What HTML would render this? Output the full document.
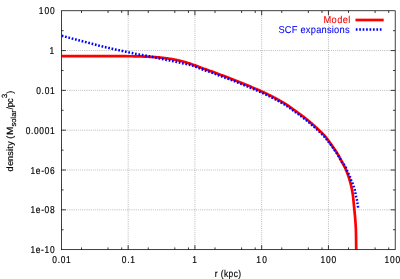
<!DOCTYPE html>
<html><head><meta charset="utf-8"><title>density</title>
<style>html,body{margin:0;padding:0;background:#fff;width:400px;height:279px;overflow:hidden}body{position:relative;font-family:"Liberation Sans",sans-serif}</style></head>
<body>
<svg width="400" height="279" viewBox="0 0 400 279" style="display:block;position:absolute;left:0;top:0" font-family="Liberation Sans, sans-serif" font-size="10px" text-rendering="geometricPrecision">
<rect width="400" height="279" fill="#fff"/>
<path d="M128.16,249.65 V10.75 M194.92,249.65 V10.75 M261.68,249.65 V10.75 M328.44,249.65 V10.75 M61.4,50.57 H395.2 M61.4,90.38 H395.2 M61.4,130.20 H395.2 M61.4,170.02 H395.2 M61.4,209.83 H395.2" stroke="#000" stroke-opacity="0.62" stroke-width="0.625" stroke-dasharray="0.625 1.25" fill="none"/>
<clipPath id="c"><rect x="61.4" y="10.75" width="333.8" height="238.9"/></clipPath>
<g clip-path="url(#c)" fill="none">
<path d="M61.50,56.20 L62.18,56.20 L62.85,56.20 L63.53,56.20 L64.20,56.20 L64.88,56.20 L65.55,56.20 L66.23,56.20 L66.90,56.20 L67.58,56.20 L68.26,56.20 L68.93,56.20 L69.61,56.20 L70.28,56.20 L70.96,56.20 L71.63,56.20 L72.31,56.20 L72.98,56.20 L73.66,56.20 L74.34,56.20 L75.01,56.20 L75.69,56.20 L76.36,56.20 L77.04,56.20 L77.71,56.20 L78.39,56.20 L79.06,56.20 L79.74,56.20 L80.42,56.20 L81.09,56.20 L81.77,56.20 L82.44,56.20 L83.12,56.20 L83.79,56.20 L84.47,56.20 L85.14,56.20 L85.82,56.20 L86.50,56.20 L87.17,56.20 L87.85,56.20 L88.52,56.20 L89.20,56.20 L89.87,56.20 L90.55,56.20 L91.22,56.20 L91.90,56.20 L92.58,56.20 L93.25,56.20 L93.93,56.20 L94.60,56.20 L95.28,56.20 L95.95,56.20 L96.63,56.20 L97.30,56.20 L97.98,56.20 L98.65,56.20 L99.33,56.20 L100.01,56.20 L100.68,56.20 L101.36,56.20 L102.03,56.20 L102.71,56.20 L103.38,56.20 L104.06,56.20 L104.73,56.20 L105.41,56.20 L106.09,56.20 L106.76,56.20 L107.44,56.20 L108.11,56.20 L108.79,56.20 L109.46,56.20 L110.14,56.20 L110.81,56.20 L111.49,56.20 L112.17,56.20 L112.84,56.20 L113.52,56.20 L114.19,56.20 L114.87,56.20 L115.54,56.20 L116.22,56.20 L116.89,56.20 L117.57,56.20 L118.25,56.20 L118.92,56.20 L119.60,56.20 L120.27,56.20 L120.95,56.20 L121.62,56.20 L122.30,56.20 L122.97,56.20 L123.65,56.21 L124.33,56.21 L125.00,56.21 L125.68,56.22 L126.35,56.22 L127.03,56.23 L127.70,56.23 L128.38,56.24 L129.05,56.24 L129.73,56.25 L130.41,56.25 L131.08,56.26 L131.76,56.27 L132.43,56.27 L133.11,56.28 L133.78,56.29 L134.46,56.29 L135.13,56.30 L135.81,56.31 L136.48,56.32 L137.16,56.34 L137.84,56.35 L138.51,56.37 L139.19,56.39 L139.86,56.41 L140.54,56.43 L141.21,56.46 L141.89,56.48 L142.56,56.51 L143.24,56.53 L143.91,56.56 L144.59,56.58 L145.26,56.61 L145.94,56.64 L146.61,56.67 L147.29,56.69 L147.96,56.73 L148.64,56.76 L149.31,56.79 L149.99,56.82 L150.66,56.86 L151.34,56.90 L152.01,56.93 L152.69,56.97 L153.36,57.01 L154.04,57.06 L154.71,57.10 L155.38,57.15 L156.06,57.19 L156.73,57.24 L157.40,57.29 L158.08,57.35 L158.75,57.40 L159.42,57.46 L160.09,57.53 L160.77,57.59 L161.44,57.66 L162.11,57.74 L162.78,57.82 L163.46,57.90 L164.13,57.98 L164.80,58.06 L165.47,58.15 L166.14,58.24 L166.81,58.33 L167.48,58.43 L168.15,58.52 L168.81,58.62 L169.48,58.72 L170.15,58.82 L170.81,58.93 L171.48,59.04 L172.14,59.15 L172.81,59.27 L173.47,59.39 L174.14,59.52 L174.80,59.65 L175.47,59.78 L176.13,59.92 L176.79,60.06 L177.45,60.20 L178.11,60.35 L178.77,60.50 L179.43,60.65 L180.09,60.81 L180.75,60.97 L181.40,61.13 L182.06,61.29 L182.71,61.45 L183.36,61.62 L184.01,61.80 L184.66,61.98 L185.31,62.17 L185.96,62.36 L186.60,62.56 L187.25,62.76 L187.89,62.96 L188.54,63.17 L189.18,63.39 L189.82,63.60 L190.46,63.82 L191.10,64.04 L191.74,64.26 L192.38,64.48 L193.02,64.70 L193.66,64.93 L194.29,65.15 L194.93,65.38 L195.57,65.60 L196.20,65.84 L196.83,66.08 L197.46,66.32 L198.09,66.57 L198.72,66.81 L199.35,67.06 L199.98,67.29 L200.62,67.53 L201.25,67.76 L201.89,67.99 L202.52,68.22 L203.16,68.45 L203.79,68.68 L204.43,68.91 L205.07,69.13 L205.70,69.36 L206.34,69.59 L206.97,69.81 L207.61,70.04 L208.25,70.26 L208.89,70.49 L209.53,70.71 L210.16,70.93 L210.80,71.15 L211.44,71.37 L212.08,71.60 L212.71,71.83 L213.35,72.06 L213.98,72.30 L214.61,72.54 L215.24,72.78 L215.87,73.02 L216.50,73.27 L217.13,73.51 L217.76,73.75 L218.39,74.00 L219.02,74.24 L219.66,74.47 L220.29,74.71 L220.92,74.94 L221.56,75.16 L222.20,75.39 L222.83,75.62 L223.47,75.84 L224.11,76.07 L224.74,76.30 L225.37,76.54 L226.01,76.78 L226.64,77.01 L227.27,77.25 L227.90,77.49 L228.53,77.73 L229.16,77.97 L229.79,78.22 L230.42,78.46 L231.05,78.70 L231.68,78.95 L232.31,79.20 L232.94,79.44 L233.57,79.69 L234.20,79.94 L234.83,80.19 L235.46,80.44 L236.08,80.69 L236.71,80.94 L237.34,81.19 L237.97,81.44 L238.59,81.69 L239.22,81.94 L239.85,82.19 L240.47,82.45 L241.10,82.70 L241.72,82.96 L242.35,83.21 L242.97,83.47 L243.60,83.73 L244.22,83.99 L244.85,84.24 L245.47,84.50 L246.09,84.76 L246.72,85.02 L247.34,85.28 L247.96,85.54 L248.59,85.81 L249.21,86.07 L249.83,86.33 L250.45,86.59 L251.08,86.85 L251.70,87.12 L252.32,87.38 L252.95,87.64 L253.57,87.90 L254.19,88.16 L254.81,88.43 L255.44,88.69 L256.06,88.96 L256.68,89.22 L257.30,89.49 L257.92,89.76 L258.54,90.03 L259.15,90.31 L259.77,90.58 L260.39,90.86 L261.00,91.14 L261.62,91.42 L262.23,91.70 L262.84,91.98 L263.45,92.27 L264.06,92.56 L264.68,92.84 L265.29,93.13 L265.90,93.43 L266.51,93.72 L267.11,94.01 L267.72,94.31 L268.33,94.60 L268.94,94.90 L269.54,95.20 L270.15,95.50 L270.75,95.81 L271.35,96.11 L271.96,96.42 L272.56,96.73 L273.16,97.04 L273.76,97.35 L274.36,97.66 L274.95,97.98 L275.55,98.29 L276.14,98.62 L276.73,98.94 L277.32,99.27 L277.91,99.61 L278.50,99.94 L279.08,100.28 L279.67,100.61 L280.26,100.95 L280.84,101.28 L281.43,101.61 L282.02,101.95 L282.61,102.28 L283.20,102.61 L283.79,102.95 L284.37,103.29 L284.96,103.63 L285.54,103.97 L286.11,104.32 L286.69,104.68 L287.25,105.04 L287.82,105.41 L288.38,105.79 L288.93,106.18 L289.48,106.57 L290.02,106.97 L290.57,107.37 L291.11,107.77 L291.65,108.18 L292.20,108.58 L292.74,108.98 L293.29,109.37 L293.84,109.77 L294.39,110.16 L294.94,110.56 L295.49,110.95 L296.04,111.35 L296.59,111.74 L297.14,112.13 L297.68,112.53 L298.23,112.92 L298.78,113.32 L299.33,113.72 L299.87,114.12 L300.42,114.51 L300.96,114.92 L301.51,115.32 L302.05,115.72 L302.59,116.13 L303.12,116.54 L303.66,116.95 L304.19,117.36 L304.72,117.78 L305.25,118.20 L305.78,118.62 L306.30,119.04 L306.83,119.47 L307.35,119.89 L307.87,120.32 L308.39,120.75 L308.91,121.18 L309.43,121.62 L309.95,122.05 L310.47,122.49 L310.98,122.93 L311.49,123.37 L312.01,123.81 L312.52,124.26 L313.03,124.70 L313.53,125.15 L314.04,125.60 L314.54,126.05 L315.05,126.50 L315.55,126.95 L316.05,127.41 L316.54,127.86 L317.04,128.32 L317.53,128.78 L318.03,129.24 L318.52,129.70 L319.01,130.16 L319.51,130.63 L320.00,131.10 L320.49,131.57 L320.97,132.04 L321.46,132.51 L321.94,132.99 L322.42,133.47 L322.89,133.95 L323.35,134.44 L323.82,134.93 L324.27,135.43 L324.72,135.93 L325.16,136.44 L325.59,136.95 L326.02,137.47 L326.45,137.99 L326.87,138.52 L327.28,139.05 L327.69,139.59 L328.10,140.13 L328.50,140.68 L328.90,141.22 L329.30,141.77 L329.69,142.32 L330.09,142.87 L330.48,143.42 L330.87,143.97 L331.27,144.52 L331.66,145.07 L332.05,145.62 L332.44,146.17 L332.83,146.73 L333.22,147.28 L333.61,147.83 L333.99,148.39 L334.38,148.95 L334.76,149.51 L335.14,150.07 L335.51,150.63 L335.88,151.19 L336.25,151.76 L336.62,152.33 L336.98,152.90 L337.33,153.47 L337.68,154.05 L338.03,154.63 L338.36,155.21 L338.70,155.80 L339.03,156.39 L339.36,156.98 L339.68,157.57 L340.00,158.17 L340.33,158.76 L340.65,159.36 L340.97,159.95 L341.30,160.54 L341.62,161.14 L341.94,161.73 L342.25,162.33 L342.57,162.93 L342.88,163.53 L343.19,164.13 L343.51,164.72 L343.82,165.32 L344.13,165.93 L344.44,166.53 L344.74,167.13 L345.04,167.74 L345.32,168.35 L345.60,168.97 L345.87,169.58 L346.13,170.20 L346.39,170.83 L346.64,171.45 L346.90,172.08 L347.14,172.71 L347.39,173.34 L347.62,173.98 L347.86,174.61 L348.08,175.25 L348.31,175.89 L348.52,176.53 L348.74,177.17 L348.94,177.81 L349.14,178.46 L349.34,179.10 L349.53,179.75 L349.72,180.40 L349.91,181.05 L350.09,181.70 L350.27,182.35 L350.45,183.00 L350.61,183.66 L350.78,184.32 L350.94,184.97 L351.10,185.63 L351.24,186.29 L351.39,186.95 L351.53,187.61 L351.67,188.27 L351.80,188.93 L351.94,189.59 L352.06,190.26 L352.19,190.92 L352.31,191.59 L352.43,192.25 L352.55,192.92 L352.65,193.59 L352.76,194.25 L352.86,194.92 L352.95,195.59 L353.03,196.26 L353.11,196.93 L353.19,197.60 L353.25,198.27 L353.32,198.95 L353.38,199.62 L353.45,200.29 L353.51,200.96 L353.57,201.64 L353.63,202.31 L353.70,202.98 L353.77,203.66 L353.83,204.33 L353.90,205.00 L353.97,205.67 L354.04,206.34 L354.11,207.02 L354.17,207.69 L354.24,208.36 L354.31,209.03 L354.37,209.71 L354.44,210.38 L354.50,211.05 L354.57,211.72 L354.63,212.40 L354.70,213.07 L354.76,213.74 L354.82,214.41 L354.89,215.09 L354.95,215.76 L355.01,216.43 L355.07,217.10 L355.13,217.78 L355.18,218.45 L355.23,219.12 L355.29,219.80 L355.33,220.47 L355.38,221.14 L355.43,221.82 L355.48,222.49 L355.53,223.17 L355.58,223.84 L355.62,224.51 L355.66,225.19 L355.71,225.86 L355.75,226.54 L355.78,227.21 L355.82,227.89 L355.85,228.56 L355.87,229.24 L355.90,229.91 L355.92,230.59 L355.94,231.26 L355.95,231.94 L355.97,232.61 L355.99,233.29 L356.00,233.96 L356.01,234.64 L356.03,235.31 L356.04,235.99 L356.05,236.67 L356.06,237.34 L356.07,238.02 L356.08,238.69 L356.09,239.37 L356.10,240.04 L356.11,240.72 L356.12,241.39 L356.13,242.07 L356.14,242.74 L356.14,243.42 L356.15,244.10 L356.16,244.77 L356.17,245.45 L356.17,246.12 L356.18,246.80 L356.19,247.47 L356.19,248.15 L356.20,248.82 L356.20,249.50" stroke="#ff0000" stroke-width="2.7" stroke-linejoin="round"/>
<path d="M61.75,35.75 L62.46,35.94 L63.16,36.13 L63.87,36.32 L64.58,36.52 L65.29,36.71 L65.99,36.90 L66.70,37.09 L67.41,37.28 L68.11,37.47 L68.82,37.66 L69.53,37.85 L70.24,38.04 L70.95,38.22 L71.65,38.41 L72.36,38.60 L73.07,38.79 L73.78,38.98 L74.48,39.16 L75.19,39.35 L75.90,39.54 L76.61,39.72 L77.32,39.91 L78.03,40.09 L78.74,40.28 L79.44,40.46 L80.15,40.65 L80.86,40.83 L81.57,41.01 L82.28,41.20 L82.99,41.38 L83.70,41.56 L84.41,41.75 L85.12,41.93 L85.83,42.11 L86.54,42.30 L87.25,42.48 L87.95,42.67 L88.66,42.85 L89.37,43.04 L90.08,43.22 L90.79,43.41 L91.50,43.60 L92.20,43.79 L92.91,43.98 L93.62,44.17 L94.33,44.36 L95.03,44.55 L95.74,44.74 L96.45,44.93 L97.15,45.12 L97.86,45.31 L98.57,45.50 L99.28,45.68 L99.99,45.87 L100.70,46.05 L101.41,46.23 L102.12,46.40 L102.83,46.58 L103.54,46.75 L104.25,46.91 L104.97,47.08 L105.68,47.24 L106.40,47.41 L107.11,47.57 L107.83,47.73 L108.54,47.89 L109.25,48.06 L109.97,48.22 L110.68,48.39 L111.40,48.55 L112.11,48.71 L112.82,48.88 L113.54,49.04 L114.25,49.20 L114.97,49.36 L115.68,49.52 L116.40,49.68 L117.11,49.83 L117.83,49.99 L118.54,50.15 L119.26,50.30 L119.98,50.46 L120.69,50.61 L121.41,50.77 L122.12,50.92 L122.84,51.07 L123.56,51.23 L124.27,51.38 L124.99,51.53 L125.71,51.68 L126.42,51.83 L127.14,51.98 L127.86,52.13 L128.57,52.29 L129.29,52.44 L130.00,52.60 L130.72,52.76 L131.43,52.92 L132.15,53.08 L132.86,53.24 L133.58,53.39 L134.30,53.55 L135.01,53.70 L135.73,53.85 L136.45,53.99 L137.17,54.12 L137.89,54.25 L138.61,54.38 L139.33,54.51 L140.05,54.63 L140.78,54.75 L141.50,54.88 L142.22,55.01 L142.94,55.13 L143.66,55.26 L144.38,55.39 L145.10,55.51 L145.83,55.64 L146.55,55.77 L147.27,55.90 L147.99,56.03 L148.71,56.17 L149.43,56.31 L150.14,56.45 L150.86,56.61 L151.58,56.77 L152.29,56.92 L153.01,57.08 L153.72,57.23 L154.44,57.38 L155.16,57.54 L155.87,57.69 L156.59,57.84 L157.31,57.99 L158.02,58.14 L158.74,58.29 L159.46,58.44 L160.17,58.59 L160.89,58.74 L161.61,58.89 L162.33,59.04 L163.04,59.19 L163.76,59.34 L164.48,59.49 L165.19,59.63 L165.91,59.78 L166.63,59.93 L167.35,60.07 L168.07,60.21 L168.78,60.36 L169.50,60.50 L170.22,60.64 L170.94,60.79 L171.66,60.94 L172.37,61.08 L173.09,61.23 L173.81,61.38 L174.53,61.53 L175.24,61.68 L175.96,61.83 L176.68,61.98 L177.39,62.14 L178.11,62.30 L178.82,62.45 L179.54,62.61 L180.25,62.78 L180.97,62.94 L181.68,63.10 L182.39,63.26 L183.11,63.41 L183.83,63.57 L184.54,63.72 L185.26,63.86 L185.99,64.00 L186.71,64.15 L187.42,64.29 L188.14,64.44 L188.86,64.60 L189.57,64.77 L190.27,64.95 L190.97,65.16 L191.66,65.38 L192.36,65.61 L193.05,65.86 L193.73,66.12 L194.42,66.38 L195.10,66.65 L195.79,66.92 L196.47,67.18 L197.16,67.44 L197.85,67.70 L198.54,67.95 L199.22,68.20 L199.91,68.45 L200.60,68.71 L201.29,68.96 L201.97,69.21 L202.66,69.47 L203.35,69.72 L204.04,69.97 L204.72,70.22 L205.41,70.47 L206.10,70.71 L206.79,70.96 L207.49,71.20 L208.18,71.44 L208.87,71.68 L209.56,71.92 L210.25,72.16 L210.94,72.41 L211.63,72.65 L212.32,72.90 L213.01,73.15 L213.70,73.40 L214.39,73.66 L215.07,73.91 L215.76,74.17 L216.44,74.44 L217.12,74.70 L217.81,74.96 L218.49,75.22 L219.18,75.48 L219.86,75.74 L220.55,76.00 L221.23,76.25 L221.92,76.51 L222.61,76.76 L223.30,77.01 L223.99,77.26 L224.68,77.51 L225.36,77.76 L226.05,78.01 L226.74,78.26 L227.43,78.52 L228.11,78.77 L228.80,79.03 L229.48,79.29 L230.16,79.56 L230.85,79.82 L231.53,80.09 L232.21,80.36 L232.89,80.62 L233.57,80.89 L234.26,81.16 L234.94,81.43 L235.62,81.70 L236.30,81.97 L236.98,82.24 L237.66,82.52 L238.34,82.79 L239.02,83.06 L239.70,83.34 L240.38,83.61 L241.05,83.89 L241.73,84.17 L242.41,84.44 L243.09,84.72 L243.77,85.00 L244.44,85.28 L245.12,85.56 L245.80,85.84 L246.47,86.12 L247.15,86.40 L247.82,86.69 L248.50,86.97 L249.17,87.25 L249.85,87.54 L250.52,87.82 L251.20,88.11 L251.88,88.39 L252.55,88.67 L253.23,88.96 L253.90,89.24 L254.58,89.53 L255.25,89.81 L255.92,90.10 L256.60,90.39 L257.27,90.68 L257.94,90.97 L258.61,91.27 L259.28,91.57 L259.95,91.87 L260.61,92.17 L261.28,92.47 L261.95,92.77 L262.61,93.08 L263.28,93.39 L263.94,93.70 L264.61,94.01 L265.27,94.32 L265.93,94.64 L266.59,94.95 L267.25,95.27 L267.91,95.59 L268.57,95.91 L269.23,96.23 L269.88,96.56 L270.54,96.89 L271.19,97.22 L271.84,97.55 L272.50,97.88 L273.15,98.22 L273.79,98.56 L274.44,98.91 L275.08,99.25 L275.73,99.61 L276.37,99.96 L277.01,100.31 L277.65,100.67 L278.29,101.03 L278.93,101.38 L279.57,101.74 L280.21,102.10 L280.85,102.46 L281.49,102.82 L282.13,103.18 L282.76,103.54 L283.40,103.90 L284.04,104.27 L284.67,104.64 L285.30,105.01 L285.92,105.39 L286.54,105.78 L287.15,106.18 L287.76,106.59 L288.36,107.00 L288.96,107.42 L289.55,107.85 L290.15,108.29 L290.74,108.72 L291.33,109.16 L291.92,109.59 L292.51,110.03 L293.10,110.46 L293.70,110.88 L294.30,111.31 L294.89,111.73 L295.49,112.15 L296.09,112.58 L296.69,113.00 L297.28,113.43 L297.88,113.85 L298.47,114.28 L299.06,114.71 L299.65,115.15 L300.24,115.58 L300.83,116.02 L301.41,116.46 L302.00,116.90 L302.58,117.35 L303.16,117.79 L303.74,118.24 L304.32,118.69 L304.90,119.14 L305.47,119.59 L306.05,120.05 L306.62,120.51 L307.18,120.97 L307.75,121.44 L308.32,121.90 L308.88,122.37 L309.44,122.84 L310.00,123.32 L310.56,123.79 L311.11,124.27 L311.67,124.75 L312.22,125.23 L312.77,125.71 L313.32,126.19 L313.87,126.68 L314.42,127.17 L314.96,127.66 L315.50,128.15 L316.05,128.64 L316.59,129.14 L317.12,129.63 L317.66,130.13 L318.19,130.63 L318.73,131.14 L319.26,131.64 L319.80,132.14 L320.33,132.64 L320.87,133.14 L321.40,133.65 L321.93,134.16 L322.45,134.68 L322.96,135.20 L323.47,135.72 L323.97,136.26 L324.46,136.80 L324.94,137.35 L325.41,137.90 L325.88,138.47 L326.34,139.04 L326.79,139.61 L327.25,140.19 L327.70,140.77 L328.14,141.35 L328.59,141.94 L329.04,142.52 L329.48,143.10 L329.92,143.68 L330.36,144.27 L330.80,144.86 L331.23,145.45 L331.67,146.04 L332.10,146.63 L332.53,147.22 L332.95,147.82 L333.38,148.42 L333.80,149.02 L334.22,149.62 L334.63,150.22 L335.05,150.82 L335.47,151.43 L335.88,152.03 L336.29,152.64 L336.70,153.25 L337.10,153.86 L337.50,154.47 L337.89,155.09 L338.28,155.71 L338.67,156.33 L339.04,156.97 L339.39,157.61 L339.74,158.26 L340.09,158.91 L340.44,159.56 L340.79,160.20 L341.15,160.84 L341.51,161.48 L341.89,162.10 L342.29,162.71 L342.72,163.29 L343.19,163.85 L343.70,164.40 L344.20,164.95 L344.67,165.51 L345.06,166.10 L345.40,166.73 L345.71,167.39 L346.00,168.06 L346.28,168.75 L346.55,169.44 L346.83,170.13 L347.11,170.81 L347.42,171.47 L347.73,172.14 L348.04,172.80 L348.35,173.46 L348.66,174.13 L348.98,174.79 L349.29,175.45 L349.61,176.11 L349.91,176.78 L350.18,177.46 L350.44,178.14 L350.69,178.83 L350.94,179.52 L351.20,180.20 L351.48,180.88 L351.77,181.55 L352.07,182.22 L352.35,182.90 L352.63,183.58 L352.89,184.26 L353.15,184.95 L353.40,185.64 L353.64,186.33 L353.88,187.02 L354.13,187.71 L354.38,188.40 L354.60,189.10 L354.80,189.80 L354.97,190.51 L355.12,191.23 L355.26,191.95 L355.40,192.67 L355.54,193.39 L355.68,194.11 L355.81,194.83 L355.95,195.55 L356.09,196.27 L356.24,196.98 L356.41,197.69 L356.59,198.41 L356.77,199.12 L356.93,199.83 L357.06,200.55 L357.18,201.27 L357.28,202.00 L357.39,202.72 L357.49,203.45 L357.61,204.17 L357.72,204.90 L357.84,205.62 L357.94,206.34 L358.03,207.07 L358.10,207.80" stroke="#0000ff" stroke-width="2.5" stroke-dasharray="1.7 1.73" stroke-linejoin="round"/>
</g>
<path d="M81.50,249.65 v-2.25 M81.50,10.75 v2.25 M108.06,249.65 v-2.25 M108.06,10.75 v2.25 M121.69,249.65 v-2.25 M121.69,10.75 v2.25 M128.16,249.65 v-4.5 M128.16,10.75 v4.5 M148.26,249.65 v-2.25 M148.26,10.75 v2.25 M174.82,249.65 v-2.25 M174.82,10.75 v2.25 M188.45,249.65 v-2.25 M188.45,10.75 v2.25 M194.92,249.65 v-4.5 M194.92,10.75 v4.5 M215.02,249.65 v-2.25 M215.02,10.75 v2.25 M241.58,249.65 v-2.25 M241.58,10.75 v2.25 M255.21,249.65 v-2.25 M255.21,10.75 v2.25 M261.68,249.65 v-4.5 M261.68,10.75 v4.5 M281.78,249.65 v-2.25 M281.78,10.75 v2.25 M308.34,249.65 v-2.25 M308.34,10.75 v2.25 M321.97,249.65 v-2.25 M321.97,10.75 v2.25 M328.44,249.65 v-4.5 M328.44,10.75 v4.5 M348.54,249.65 v-2.25 M348.54,10.75 v2.25 M375.10,249.65 v-2.25 M375.10,10.75 v2.25 M388.73,249.65 v-2.25 M388.73,10.75 v2.25 M61.4,30.66 h2.25 M395.2,30.66 h-2.25 M61.4,50.57 h4.5 M395.2,50.57 h-4.5 M61.4,70.48 h2.25 M395.2,70.48 h-2.25 M61.4,90.38 h4.5 M395.2,90.38 h-4.5 M61.4,110.29 h2.25 M395.2,110.29 h-2.25 M61.4,130.20 h4.5 M395.2,130.20 h-4.5 M61.4,150.11 h2.25 M395.2,150.11 h-2.25 M61.4,170.02 h4.5 M395.2,170.02 h-4.5 M61.4,189.93 h2.25 M395.2,189.93 h-2.25 M61.4,209.83 h4.5 M395.2,209.83 h-4.5 M61.4,229.74 h2.25 M395.2,229.74 h-2.25" stroke="#000" stroke-width="0.75" fill="none"/>
<rect x="61.4" y="10.75" width="333.8" height="238.9" fill="none" stroke="#000" stroke-width="0.75"/>
<g style="filter:grayscale(1)" stroke="#000" stroke-width="0.18">
<text transform="translate(0,14.25) scale(0.84,1)" x="46.26 52.83 59.41" y="0" font-size="10.0px">100</text>
<text transform="translate(0,54.07) scale(0.84,1)" x="58.95" y="0" font-size="10.0px">1</text>
<text transform="translate(0,93.88) scale(0.84,1)" x="43.18 49.55 53.14 59.51" y="0" font-size="10.0px">0.01</text>
<text transform="translate(0,133.70) scale(0.84,1)" x="30.60 36.94 40.49 46.83 53.17 59.51" y="0" font-size="10.0px">0.0001</text>
<text transform="translate(0,173.52) scale(0.84,1)" x="36.25 42.61 48.97 53.10 59.46" y="0" font-size="10.0px">1e-06</text>
<text transform="translate(0,213.33) scale(0.84,1)" x="36.25 42.61 48.97 53.10 59.46" y="0" font-size="10.0px">1e-08</text>
<text transform="translate(0,253.15) scale(0.84,1)" x="36.20 42.56 48.92 53.05 59.41" y="0" font-size="10.0px">1e-10</text>
<text transform="translate(0,263.10) scale(0.84,1)" x="62.26 68.67 72.30 78.71" y="0" font-size="10.0px">0.01</text>
<text transform="translate(0,263.10) scale(0.84,1)" x="144.90 151.35 155.02" y="0" font-size="10.0px">0.1</text>
<text transform="translate(0,263.10) scale(0.84,1)" x="228.95" y="0" font-size="10.0px">1</text>
<text transform="translate(0,263.10) scale(0.84,1)" x="305.21 312.14" y="0" font-size="10.0px">10</text>
<text transform="translate(0,263.10) scale(0.84,1)" x="381.53 388.15 394.78" y="0" font-size="10.0px">100</text>
<text transform="translate(0,263.10) scale(0.84,1)" x="457.84 464.37 470.89 477.42" y="0" font-size="10.0px">1000</text>
<text transform="translate(0,277.00) scale(0.84,1)" x="255.53 259.39 262.70 266.56 272.09 278.19 283.72" y="0" font-size="10.0px">r (kpc)</text>
<g transform="translate(12.7,171.5) rotate(-90)" font-size="9px"><text x="0.00 5.65 10.60 15.80 20.50 22.80 25.80" y="0">density</text><text x="32.75" y="0">(</text><text transform="scale(1.12,1)" x="32.50" y="0">M</text><text x="45.00 48.80 52.75 54.80 58.80" y="3.3" font-size="7.5px">solar</text><text x="62.00 64.30 68.85" y="0">/pc</text><text x="73.50" y="-5.8" font-size="7.5px">3</text><text x="77.85" y="0">)</text></g>
</g>
<g style="filter:saturate(0.99)" stroke-width="0.1">
<text transform="translate(0,22.60) scale(0.93,1)" x="347.78 356.56 362.56 368.57 374.58" y="0" font-size="10.0px" fill="#ff0000" stroke="#ff0000">Model</text>
<text transform="translate(0,32.70) scale(0.93,1)" x="299.33 306.24 313.71 320.06 323.08 328.88 334.12 339.93 345.73 351.53 356.77 359.24 365.04 370.85" y="0" font-size="10.0px" fill="#0000ff" stroke="#0000ff">SCF expansions</text>
<path d="M355.5,20 H383.7" stroke="#ff0000" stroke-width="2.7" fill="none"/>
<path d="M355.8,29.6 H383" stroke="#0000ff" stroke-width="2.5" stroke-dasharray="1.7 1.73" fill="none"/>
</g>
</svg>
</body></html>
